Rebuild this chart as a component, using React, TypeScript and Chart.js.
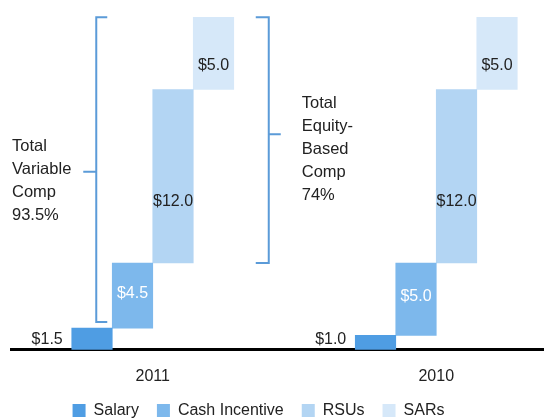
import React, { useEffect, useRef } from 'react';
import { Chart, registerables } from 'chart.js';

Chart.register(...registerables);

// ---- data ----
const years = ['2011', '2010'];
const seriesNames = ['Salary', 'Cash Incentive', 'RSUs', 'SARs'];
const salary = [1.5, 1.0];
const cashIncentive = [4.5, 5.0];
const rsus = [12.0, 12.0];
const sars = [5.0, 5.0];
const variableCompLines = ['Total', 'Variable', 'Comp', '93.5%'];
const equityCompLines = ['Total', 'Equity-', 'Based', 'Comp', '74%'];

// ---- style ----
const FONT = '"Liberation Sans", Arial, sans-serif';
const TEXT = '#222222';
const COLORS = ['#4f9de3', '#7db8ec', '#b3d5f3', '#d6e8f9'];
const BRACKET = '#5b9bd8';

const series = [salary, cashIncentive, rsus, sars];
const fmt = (v: number) => '$' + v.toFixed(1);

function buildDatasets() {
  const running = years.map(() => 0);
  return series.map((vals, si) => {
    const data = vals.map((v, i) => {
      const lo = running[i];
      running[i] = lo + v;
      return { x: i, y: [lo, lo + v] };
    });
    return {
      label: seriesNames[si],
      data,
      backgroundColor: COLORS[si],
      borderWidth: 0,
    };
  });
}

const labelFractions = [0, 0.47, 0.648, 0.67];
const labelColors = [TEXT, '#ffffff', TEXT, TEXT];

const valueLabelPlugin = {
  id: 'valueLabels',
  afterDatasetsDraw(chart: any) {
    const ctx = chart.ctx;
    ctx.save();
    ctx.font = `16px ${FONT}`;
    ctx.textBaseline = 'middle';
    chart.data.datasets.forEach((_: any, di: number) => {
      const meta = chart.getDatasetMeta(di);
      meta.data.forEach((bar: any, i: number) => {
        const { x, y, base, width } = bar.getProps(['x', 'y', 'base', 'width'], true);
        const text = fmt(series[di][i]);
        ctx.fillStyle = labelColors[di];
        if (di === 0) {
          ctx.textAlign = 'right';
          ctx.fillText(text, x - width / 2 - 9, base - 10.5);
        } else {
          const top = Math.min(y, base);
          const bot = Math.max(y, base);
          ctx.textAlign = 'center';
          ctx.fillText(text, x, top + labelFractions[di] * (bot - top));
        }
      });
    });
    ctx.restore();
  },
};

const bracketPlugin = {
  id: 'brackets',
  afterDraw(chart: any) {
    const ctx = chart.ctx;
    const bar = (d: number, i: number) =>
      chart.getDatasetMeta(d).data[i].getProps(['x', 'y', 'base', 'width'], true);
    const sal = bar(0, 0);
    const cash = bar(1, 0);
    const rsu = bar(2, 0);
    const sar = bar(3, 0);
    ctx.save();
    ctx.strokeStyle = BRACKET;
    ctx.lineWidth = 2;

    // variable comp bracket
    const vx = cash.x - cash.width / 2 - 16;
    const vTop = sar.y;
    const vBot = sal.y - 6;
    const vMid = (vTop + vBot) / 2 + 2;
    ctx.beginPath();
    ctx.moveTo(vx + 11, vTop);
    ctx.lineTo(vx, vTop);
    ctx.lineTo(vx, vBot);
    ctx.lineTo(vx + 11, vBot);
    ctx.moveTo(vx, vMid);
    ctx.lineTo(vx - 13, vMid);
    ctx.stroke();

    // equity comp bracket
    const ex = sar.x + sar.width / 2 + 35;
    const eTop = sar.y;
    const eBot = rsu.base;
    const eMid = (eTop + eBot) / 2 - 6;
    ctx.beginPath();
    ctx.moveTo(ex - 13, eTop);
    ctx.lineTo(ex, eTop);
    ctx.lineTo(ex, eBot);
    ctx.lineTo(ex - 13, eBot);
    ctx.moveTo(ex, eMid);
    ctx.lineTo(ex + 12, eMid);
    ctx.stroke();

    ctx.fillStyle = TEXT;
    ctx.font = `16.5px ${FONT}`;
    ctx.textAlign = 'left';
    ctx.textBaseline = 'alphabetic';
    const lh = 23;
    const lx = chart.chartArea.left + 1;
    const ly = vMid - 20.5;
    variableCompLines.forEach((t, k) => ctx.fillText(t, lx, ly + k * lh));
    const rx = ex + 33;
    const ry = eMid - 26.5;
    equityCompLines.forEach((t, k) => ctx.fillText(t, rx, ry + k * lh));
    ctx.restore();
  },
};

// nudges the bottom legend to the reference's position
const legendShiftPlugin = {
  id: 'legendShift',
  afterLayout(chart: any) {
    const l = chart.legend;
    if (l) {
      l.left -= 19;
      l.right -= 19;
      l.top -= 18.5;
      l.bottom -= 18.5;
    }
  },
};

export default function App() {
  const ref = useRef<HTMLCanvasElement | null>(null);
  useEffect(() => {
    if (!ref.current) return;
    Chart.defaults.font.family = FONT;
    const chart = new Chart(ref.current, {
      type: 'bar',
      data: { datasets: buildDatasets() as any },
      options: {
        responsive: false,
        animation: false,
        events: [],
        layout: { padding: { top: 10, left: 11, right: 0, bottom: 0 } },
        datasets: { bar: { barThickness: 40.5, grouped: true } },
        scales: {
          x: {
            type: 'linear',
            min: -0.5,
            max: 1.38,
            offset: false,
            z: 1,
            grid: { display: false, drawTicks: false },
            border: { display: true, color: '#000000', width: 3 },
            afterBuildTicks: (scale: any) => {
              scale.ticks = years.map((_, i) => ({ value: i }));
            },
            ticks: {
              padding: 17,
              color: TEXT,
              font: { size: 16, family: FONT },
              autoSkip: false,
              maxRotation: 0,
              callback: (v: any) => years[v] ?? '',
            },
          },
          y: { display: false, min: 0, max: 23.5 },
        },
        plugins: {
          tooltip: { enabled: false },
          legend: {
            position: 'bottom',
            labels: {
              boxWidth: 13,
              boxHeight: 13,
              padding: 18,
              color: TEXT,
              font: { size: 16, family: FONT },
            },
          },
        },
      } as any,
      plugins: [valueLabelPlugin, bracketPlugin, legendShiftPlugin],
    });
    return () => chart.destroy();
  }, []);
  return (
    <canvas
      ref={ref}
      width={544}
      height={447}
      style={{ position: 'fixed', left: 0, top: 0, display: 'block' }}
    />
  );
}
